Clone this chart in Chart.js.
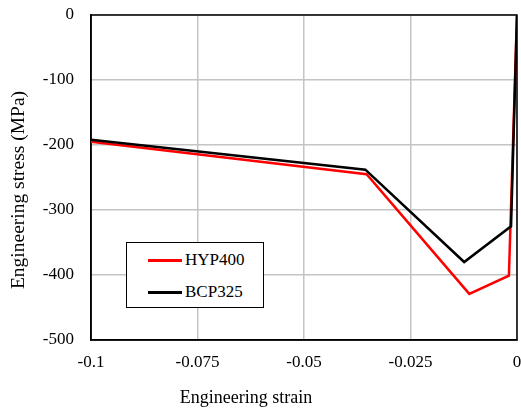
<!DOCTYPE html>
<html>
<head>
<meta charset="utf-8">
<script src="https://cdn.jsdelivr.net/npm/chart.js@4"></script>
<style>
    body { margin: 0; background: #fff; }
    #wrap { position: relative; width: 521px; height: 411px; }
    #legend {
        position: absolute; left: 126px; top: 242px; width: 136px; height: 64px;
        border: 1px solid #000; background: #fff;
        font-family: 'Liberation Serif', 'Times New Roman', serif; font-size: 17px; color: #000;
    }
    .row { position: absolute; left: 0; height: 20px; line-height: 20px; }
    .swatch { position: absolute; left: 21px; top: 9px; width: 34px; height: 3px; }
    .label { position: absolute; left: 58px; top: 0; white-space: nowrap; }
</style>
</head>
<body>
<div id="wrap">
    <canvas id="chart" width="521" height="411"></canvas>
    <div id="legend"></div>
</div>
<script>
// --- Data ---
const seriesNames = ['HYP400', 'BCP325'];
const seriesColors = ['#ff0000', '#000000'];
const hypStrain = [-0.1, -0.0353, -0.0112, -0.0019, 0];
const hypStress = [-195, -245, -429, -401, 0];
const bcpStrain = [-0.1, -0.0356, -0.0124, -0.0014, 0];
const bcpStress = [-192, -238, -380, -325, 0];
const xTicks = [-0.1, -0.075, -0.05, -0.025, 0];
const yTicks = [0, -100, -200, -300, -400, -500];
const xTitle = 'Engineering strain';
const yTitle = 'Engineering stress (MPa)';

const toPoints = (xs, ys) => xs.map((x, i) => ({ x: x, y: ys[i] }));
const serif = "'Liberation Serif', 'Times New Roman', serif";

Chart.defaults.font.family = serif;
Chart.defaults.font.size = 17;
Chart.defaults.color = '#000';

// --- Legend (HTML, drawn inside the plot like the original) ---
const legend = document.getElementById('legend');
seriesNames.forEach((name, i) => {
    const row = document.createElement('div');
    row.className = 'row';
    row.style.top = (7 + i * 32) + 'px';
    row.innerHTML = `<span class="swatch" style="background:${seriesColors[i]}"></span><span class="label">${name}</span>`;
    legend.appendChild(row);
});

// Frame on top/right + custom-placed axis titles
const framePlugin = {
    id: 'frame',
    beforeDatasetsDraw(chart) {
        const { ctx, chartArea: a } = chart;
        ctx.save();
        ctx.strokeStyle = '#000';
        ctx.lineWidth = 1.5;
        ctx.strokeRect(a.left, a.top, a.right - a.left, a.bottom - a.top);
        ctx.restore();
    },
    afterDraw(chart) {
        const ctx = chart.ctx;
        ctx.save();
        ctx.fillStyle = '#000';
        ctx.textAlign = 'center';
        ctx.textBaseline = 'middle';
        ctx.font = '18px ' + serif;
        ctx.fillText(xTitle, 246, 398);
        ctx.font = '19.5px ' + serif;
        ctx.translate(19, 190);
        ctx.rotate(-Math.PI / 2);
        ctx.fillText(yTitle, 0, 0);
        ctx.restore();
    }
};

// keep edge labels from pushing the plot area inwards
function noEdgePadding(s) {
    s.paddingTop = 0;
    s.paddingBottom = 0;
    s.paddingLeft = 0;
    s.paddingRight = 0;
}

new Chart(document.getElementById('chart'), {
    type: 'line',
    data: {
        datasets: [
            {
                label: seriesNames[1],
                data: toPoints(bcpStrain, bcpStress),
                borderColor: seriesColors[1],
                borderWidth: 2.5,
                pointRadius: 0,
                tension: 0
            },
            {
                label: seriesNames[0],
                data: toPoints(hypStrain, hypStress),
                borderColor: seriesColors[0],
                borderWidth: 2.5,
                pointRadius: 0,
                tension: 0
            }
        ]
    },
    options: {
        responsive: false,
        animation: false,
        layout: { padding: { top: 15, right: 4, left: 0, bottom: 0 } },
        plugins: {
            legend: { display: false },
            tooltip: { enabled: false }
        },
        scales: {
            x: {
                type: 'linear',
                min: -0.1,
                max: 0,
                afterBuildTicks: s => { s.ticks = xTicks.map(v => ({ value: v })); },
                afterFit: s => { s.height = 71; noEdgePadding(s); },
                ticks: {
                    color: '#000',
                    padding: 12,
                    maxRotation: 0,
                    font: { family: serif, size: 17 },
                    callback: v => String(v)
                },
                grid: { color: '#c4c4c4', lineWidth: 1.5, drawTicks: false },
                border: { color: '#000', width: 1.5 }
            },
            y: {
                min: -500,
                max: 0,
                afterBuildTicks: s => { s.ticks = yTicks.map(v => ({ value: v })); },
                afterFit: s => { s.width = 91; noEdgePadding(s); },
                ticks: {
                    color: '#000',
                    padding: 17,
                    font: { family: serif, size: 17 },
                    callback: v => String(v)
                },
                grid: { color: '#c4c4c4', lineWidth: 1.5, drawTicks: false },
                border: { color: '#000', width: 1.5 }
            }
        }
    },
    plugins: [framePlugin]
});
</script>
</body>
</html>
